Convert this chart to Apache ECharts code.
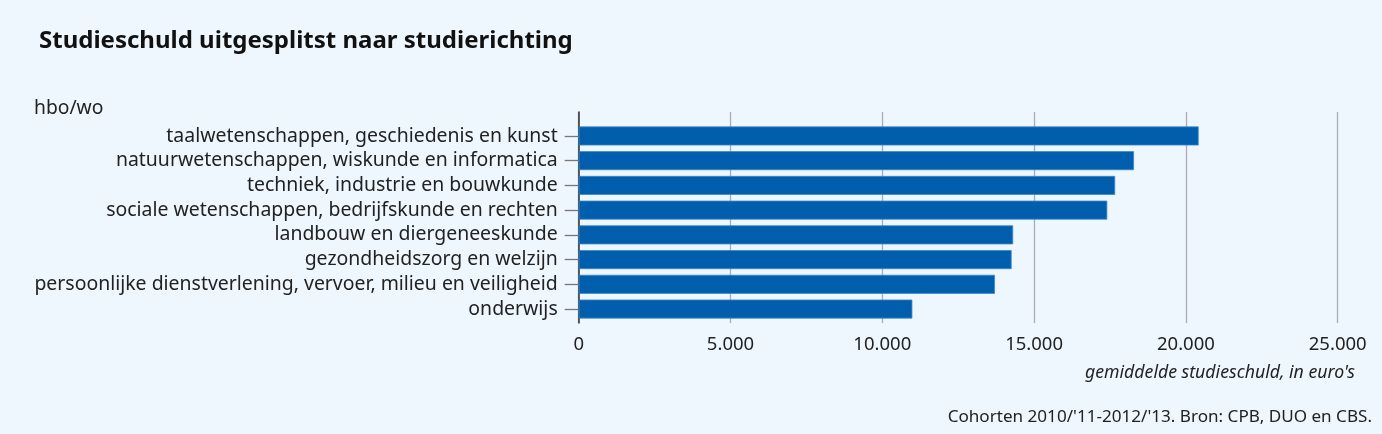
<!DOCTYPE html>
<html><head><meta charset="utf-8">
<script src="https://cdn.jsdelivr.net/npm/echarts@6/dist/echarts.min.js"></script>
<style>html,body{margin:0;padding:0;background:#EEF7FE;}#c{width:1382px;height:434px;}</style>
</head><body><div id="c"></div>
<script>
const categories = [
  "taalwetenschappen, geschiedenis en kunst",
  "natuurwetenschappen, wiskunde en informatica",
  "techniek, industrie en bouwkunde",
  "sociale wetenschappen, bedrijfskunde en rechten",
  "landbouw en diergeneeskunde",
  "gezondheidszorg en welzijn",
  "persoonlijke dienstverlening, vervoer, milieu en veiligheid",
  "onderwijs"
];
const values = [20420, 18290, 17670, 17410, 14310, 14260, 13710, 10990];
const xTicks = [0, 5000, 10000, 15000, 20000, 25000];
const texts = {
  title: "Studieschuld uitgesplitst naar studierichting",
  group: "hbo/wo",
  xName: "gemiddelde studieschuld, in euro's",
  source: "Cohorten 2010/'11-2012/'13. Bron: CPB, DUO en CBS."
};

const FONT = "'Noto Sans', sans-serif";
const fmt = v => String(v).replace(/\B(?=(\d{3})+(?!\d))/g, '.');
const L = 578.7, R = 1382 - 1337.7;
const chart = echarts.init(document.getElementById('c'));
chart.setOption({
  backgroundColor: '#EEF7FE',
  animation: false,
  title: {
    text: texts.title, left: 34, top: 24,
    textStyle: {fontFamily: FONT, fontWeight: 'bold', fontSize: 24, color: '#111'}
  },
  grid: [
    {left: L, right: R, top: 112, height: 211, containLabel: false},
    {left: L, right: R, top: 123.6, height: 197.8, containLabel: false}
  ],
  xAxis: [
    {gridIndex: 0, type: 'value', min: 0, max: 25000, interval: 5000,
     axisLine: {show: false}, axisTick: {show: false},
     splitLine: {show: true, lineStyle: {color: '#a9adb0', width: 1.3}},
     axisLabel: {margin: 12, fontFamily: FONT, fontSize: 18.5, color: '#222',
       formatter: v => xTicks.includes(v) ? fmt(v) : ''}},
    {gridIndex: 1, type: 'value', min: 0, max: 25000, interval: 5000, show: false}
  ],
  yAxis: [
    {gridIndex: 0, type: 'category', data: [''], axisLabel: {show: false},
     axisTick: {show: false}, axisLine: {show: true, lineStyle: {color: '#333', width: 1.5}}},
    {gridIndex: 1, type: 'category', inverse: true, data: categories,
     axisLine: {show: false},
     axisTick: {show: true, alignWithLabel: true, interval: 0, length: 14, lineStyle: {color: '#777', width: 1.3}},
     axisLabel: {margin: 21, interval: 0, hideOverlap: false, fontFamily: FONT, fontSize: 19.45, color: '#222'}}
  ],
  series: [{
    type: 'bar', xAxisIndex: 1, yAxisIndex: 1, data: values, barWidth: 19,
    itemStyle: {color: '#005EAD', borderColor: '#3a86cc', borderWidth: 0.8}
  }],
  graphic: [
    {type: 'text', left: 34, top: 99, style: {text: texts.group, font: "19.3px " + FONT, fill: '#222'}},
    {type: 'text', right: 27, top: 364, style: {text: texts.xName, font: "italic 17.7px " + FONT, fill: '#222'}},
    {type: 'text', right: 10, top: 409, style: {text: texts.source, font: "17.1px " + FONT, fill: '#222'}}
  ]
});
</script></body></html>
